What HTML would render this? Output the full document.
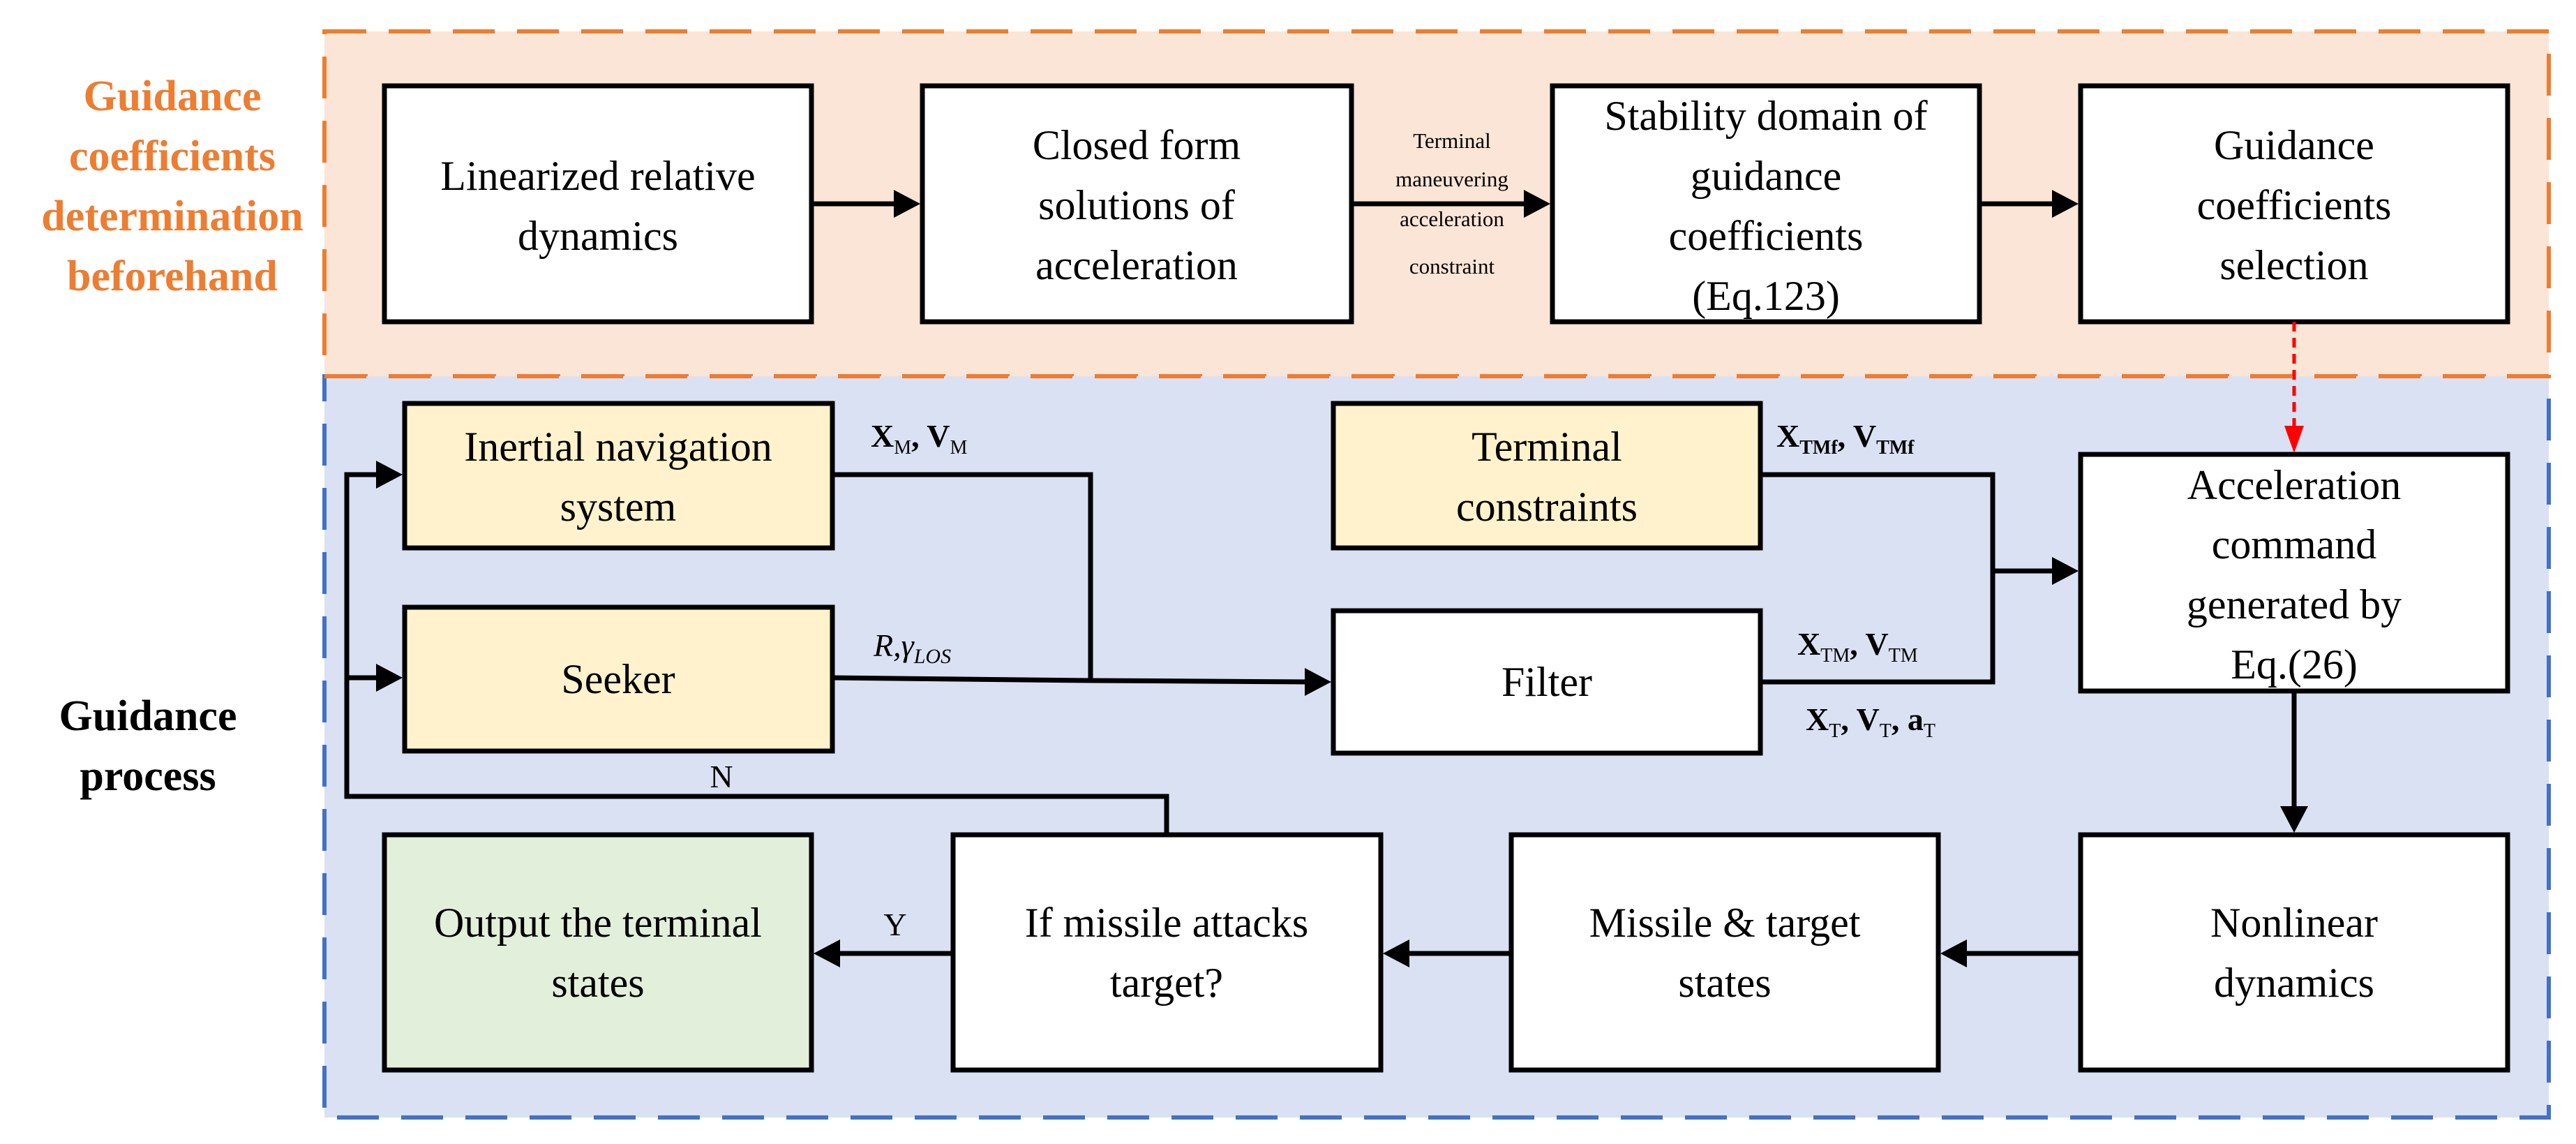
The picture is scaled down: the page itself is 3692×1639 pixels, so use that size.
<!DOCTYPE html>
<html><head><meta charset="utf-8"><style>
html,body{margin:0;padding:0;background:#fff}
svg{display:block}
svg text{font-family:"Liberation Serif","Times New Roman",Times,"DejaVu Serif",serif;fill:#000}
</style></head><body>
<svg width="3692" height="1639" viewBox="0 0 3692 1639" xmlns="http://www.w3.org/2000/svg" font-family="Liberation Serif, Times New Roman, serif">
<rect x="465" y="45" width="3188" height="494" fill="#FBE5D6" stroke="#ED7D31" stroke-width="6" stroke-dasharray="60,32"/>
<rect x="465" y="539" width="3188" height="1062" fill="#DAE1F3" stroke="#4472C4" stroke-width="6" stroke-dasharray="60,32"/>
<line x1="465" y1="539" x2="3653" y2="539" stroke="#ED7D31" stroke-width="6" stroke-dasharray="60,32"/>

<g font-weight="bold" font-size="62" text-anchor="middle">
<text x="247" y="158" style="fill:#ED7D31">Guidance</text>
<text x="247" y="244" style="fill:#ED7D31">coefficients</text>
<text x="247" y="330" style="fill:#ED7D31">determination</text>
<text x="247" y="416" style="fill:#ED7D31">beforehand</text>
</g>
<g font-weight="bold" font-size="62" text-anchor="middle">
<text x="212" y="1046">Guidance</text>
<text x="212" y="1132">process</text>
</g>

<g stroke="#000" stroke-width="7">
<rect x="551" y="123" width="612" height="338" fill="#fff"/>
<rect x="1322" y="123" width="615" height="338" fill="#fff"/>
<rect x="2225" y="123" width="612" height="338" fill="#fff"/>
<rect x="2982" y="123" width="612" height="338" fill="#fff"/>
<rect x="580" y="578" width="613" height="207" fill="#FFF2CC"/>
<rect x="580" y="870" width="613" height="206" fill="#FFF2CC"/>
<rect x="1911" y="578" width="612" height="207" fill="#FFF2CC"/>
<rect x="1911" y="875" width="612" height="204" fill="#fff"/>
<rect x="2982" y="651" width="612" height="339" fill="#fff"/>
<rect x="551" y="1196" width="612" height="337" fill="#E2EFDA"/>
<rect x="1366" y="1196" width="613" height="337" fill="#fff"/>
<rect x="2166" y="1196" width="612" height="337" fill="#fff"/>
<rect x="2982" y="1196" width="612" height="337" fill="#fff"/>
</g>

<g stroke="#000" stroke-width="7" fill="none">
<line x1="1163" y1="292" x2="1290" y2="292"/>
<line x1="1937" y1="292" x2="2195" y2="292"/>
<line x1="2837" y1="292" x2="2950" y2="292"/>
<polyline points="1672,1196 1672,1141 497,1141 497,680 550,680"/>
<line x1="497" y1="971" x2="550" y2="971"/>
<polyline points="1193,680 1563,680 1563,975"/>
<polyline points="1193,971 1563,975 1880,977"/>
<polyline points="2523,977 2856,977 2856,680 2523,680"/>
<line x1="2856" y1="818" x2="2950" y2="818"/>
<line x1="3288" y1="990" x2="3288" y2="1165"/>
<line x1="2982" y1="1366" x2="2810" y2="1366"/>
<line x1="2166" y1="1366" x2="2010" y2="1366"/>
<line x1="1366" y1="1366" x2="1195" y2="1366"/>
</g>
<g fill="#000">
<polygon points="1281,272 1319,292 1281,312"/>
<polygon points="2184,272 2222,292 2184,312"/>
<polygon points="2941,272 2979,292 2941,312"/>
<polygon points="539,660 577,680 539,700"/>
<polygon points="539,951 577,971 539,991"/>
<polygon points="1870,957 1908,977 1870,997"/>
<polygon points="2941,798 2979,818 2941,838"/>
<polygon points="3268,1155 3308,1155 3288,1193"/>
<polygon points="2819,1346 2781,1366 2819,1386"/>
<polygon points="2020,1346 1982,1366 2020,1386"/>
<polygon points="1204,1346 1166,1366 1204,1386"/>
</g>
<line x1="3288" y1="461" x2="3288" y2="615" stroke="#f00" stroke-width="5" stroke-dasharray="14,9"/>
<polygon points="3274,610 3302,610 3288,649" fill="#f00"/>

<g font-size="60" text-anchor="middle">
<text x="857" y="272">Linearized relative</text>
<text x="857" y="358">dynamics</text>
<text x="1629" y="228">Closed form</text>
<text x="1629" y="314">solutions of</text>
<text x="1629" y="400">acceleration</text>
<text x="2531" y="186">Stability domain of</text>
<text x="2531" y="272">guidance</text>
<text x="2531" y="358">coefficients</text>
<text x="2531" y="444">(Eq.123)</text>
<text x="3288" y="228">Guidance</text>
<text x="3288" y="314">coefficients</text>
<text x="3288" y="400">selection</text>
<text x="886" y="660">Inertial navigation</text>
<text x="886" y="746">system</text>
<text x="886" y="993">Seeker</text>
<text x="2217" y="660">Terminal</text>
<text x="2217" y="746">constraints</text>
<text x="2217" y="997">Filter</text>
<text x="3288" y="715">Acceleration</text>
<text x="3288" y="800">command</text>
<text x="3288" y="886">generated by</text>
<text x="3288" y="972">Eq.(26)</text>
<text x="857" y="1342">Output the terminal</text>
<text x="857" y="1428">states</text>
<text x="1672" y="1342">If missile attacks</text>
<text x="1672" y="1428">target?</text>
<text x="2472" y="1342">Missile &amp; target</text>
<text x="2472" y="1428">states</text>
<text x="3288" y="1342">Nonlinear</text>
<text x="3288" y="1428">dynamics</text>
</g>
<g font-size="31" text-anchor="middle">
<text x="2081" y="212">Terminal</text>
<text x="2081" y="267">maneuvering</text>
<text x="2081" y="324">acceleration</text>
<text x="2081" y="392">constraint</text>
</g>
<g font-size="46">
<text x="1034" y="1128" text-anchor="middle">N</text>
<text x="1283" y="1340" text-anchor="middle">Y</text>
<text x="1252" y="940" font-style="italic">R,γ<tspan font-size="30" dy="10">LOS</tspan></text>
</g>
<g font-size="46" font-weight="bold">
<text x="1248" y="640">X<tspan font-size="28" dy="10" font-weight="normal">M</tspan><tspan dy="-10">, V</tspan><tspan font-size="28" dy="10" font-weight="normal">M</tspan></text>
<text x="2546" y="640">X<tspan font-size="28" dy="10">TMf</tspan><tspan dy="-10">, V</tspan><tspan font-size="28" dy="10">TMf</tspan></text>
<text x="2576" y="938">X<tspan font-size="28" dy="10" font-weight="normal">TM</tspan><tspan dy="-10">, V</tspan><tspan font-size="28" dy="10" font-weight="normal">TM</tspan></text>
<text x="2588" y="1046">X<tspan font-size="28" dy="10" font-weight="normal">T</tspan><tspan dy="-10">, V</tspan><tspan font-size="28" dy="10" font-weight="normal">T</tspan><tspan dy="-10">, a</tspan><tspan font-size="28" dy="10" font-weight="normal">T</tspan></text>
</g>
</svg>
</body></html>
